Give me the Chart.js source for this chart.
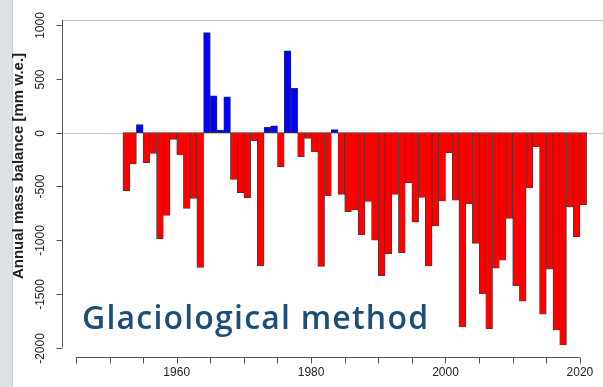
<!DOCTYPE html>
<html>
<head>
<meta charset="utf-8">
<script src="https://cdn.jsdelivr.net/npm/chart.js@4.4.1/dist/chart.umd.min.js"></script>
<style>
  html, body { margin: 0; padding: 0; background: #fff; }
  #wrap { position: relative; width: 603px; height: 387px; }
  #strip { position: absolute; left: 0; top: 0; width: 12px; height: 387px; background: #dde1e4; border-right: 1px solid #c9ced2; }
  canvas { position: absolute; left: 0; top: 0; }
</style>
</head>
<body>
<div id="wrap">
  <div id="strip"></div>
  <canvas id="grafico" width="603" height="387"></canvas>
</div>
<script>
// anos hidrológicos (ano final) e balanço anual [mm w.e.]
const anos = [
  1953, 1954, 1955, 1956, 1957, 1958, 1959, 1960, 1961, 1962,
  1963, 1964, 1965, 1966, 1967, 1968, 1969, 1970, 1971, 1972,
  1973, 1974, 1975, 1976, 1977, 1978, 1979, 1980, 1981, 1982,
  1983, 1984, 1985, 1986, 1987, 1988, 1989, 1990, 1991, 1992,
  1993, 1994, 1995, 1996, 1997, 1998, 1999, 2000, 2001, 2002,
  2003, 2004, 2005, 2006, 2007, 2008, 2009, 2010, 2011, 2012,
  2013, 2014, 2015, 2016, 2017, 2018, 2019, 2020, 2021
];
const balanco = [
  -540, -291, 75, -279, -192, -987, -769, -62, -208, -704,
  -611, -1253, 931, 342, 25, 333, -434, -559, -605, -74,
  -1238, 50, 65, -316, 763, 413, -223, -54, -179, -1245,
  -587, 28, -575, -735, -719, -950, -640, -1000, -1330, -1125,
  -575, -1117, -467, -832, -603, -1240, -868, -636, -185, -628,
  -1809, -661, -1030, -1499, -1825, -1260, -1187, -797, -1425, -1568,
  -515, -133, -1690, -1271, -1835, -1975, -690, -970, -673
];
const yTicks = [1000, 500, 0, -500, -1000, -1500, -2000];
const xTicksMenores = [1945, 1950, 1955, 1960, 1965, 1970, 1975, 1980, 1985, 1990, 1995, 2000, 2005, 2010, 2015, 2020];
const xRotulos = [1960, 1980, 2000, 2020];

const corTexto = '#222';

// eixos no estilo R, desenhados a partir das escalas do Chart.js
const eixosR = {
  id: 'eixosR',
  beforeDatasetsDraw(chart) {
    const { ctx, chartArea, scales: { y } } = chart;
    ctx.save();
    ctx.strokeStyle = '#c4c4c4';
    ctx.lineWidth = 1;
    // linha do zero
    const y0 = Math.round(y.getPixelForValue(0)) + 0.5;
    ctx.beginPath();
    ctx.moveTo(chartArea.left + 2, y0);
    ctx.lineTo(chartArea.right, y0);
    ctx.stroke();
    // linha superior
    ctx.strokeStyle = '#bdbdbd';
    ctx.beginPath();
    ctx.moveTo(chartArea.left, chartArea.top + 0.5);
    ctx.lineTo(chartArea.right, chartArea.top + 0.5);
    ctx.stroke();
    ctx.restore();
  },
  afterDraw(chart) {
    const { ctx, chartArea, scales: { x, y } } = chart;
    ctx.save();
    ctx.strokeStyle = '#555';
    ctx.lineWidth = 1;

    // eixo y
    const xl = chartArea.left + 0.5;
    ctx.beginPath();
    ctx.moveTo(xl, chartArea.top);
    ctx.lineTo(xl, y.getPixelForValue(yTicks[yTicks.length - 1]));
    ctx.stroke();
    ctx.fillStyle = corTexto;
    ctx.font = '12px "Liberation Sans", Arial, sans-serif';
    ctx.textAlign = 'center';
    ctx.textBaseline = 'middle';
    yTicks.forEach(v => {
      const py = Math.round(y.getPixelForValue(v)) + 0.5;
      ctx.beginPath();
      ctx.moveTo(xl - 6, py);
      ctx.lineTo(xl, py);
      ctx.stroke();
      ctx.save();
      ctx.translate(41, py);
      ctx.rotate(-Math.PI / 2);
      ctx.fillText(String(v), 0, 0);
      ctx.restore();
    });

    // eixo x
    const yb = chartArea.bottom + 0.5;
    ctx.beginPath();
    ctx.moveTo(x.getPixelForValue(xTicksMenores[0]), yb);
    ctx.lineTo(x.getPixelForValue(xTicksMenores[xTicksMenores.length - 1]), yb);
    ctx.stroke();
    xTicksMenores.forEach(v => {
      const px = Math.round(x.getPixelForValue(v)) + 0.5;
      ctx.beginPath();
      ctx.moveTo(px, yb);
      ctx.lineTo(px, yb + 6);
      ctx.stroke();
    });
    xRotulos.forEach(v => {
      ctx.fillText(String(v), x.getPixelForValue(v), 373);
    });

    // título do eixo y
    ctx.save();
    ctx.translate(19, 166);
    ctx.rotate(-Math.PI / 2);
    ctx.font = 'bold 15px "Liberation Sans", Arial, sans-serif';
    ctx.fillText('Annual mass balance [mm w.e.]', 0, 0);
    ctx.restore();

    // legenda grande
    ctx.fillStyle = '#1d4e7a';
    ctx.font = '600 32px "Open Sans", sans-serif';
    ctx.letterSpacing = '1.2px';
    ctx.textAlign = 'left';
    ctx.textBaseline = 'alphabetic';
    ctx.fillText('Glaciological method', 82, 329);
    ctx.restore();
  }
};

const ctx = document.getElementById('grafico').getContext('2d');
new Chart(ctx, {
  type: 'bar',
  data: {
    datasets: [{
      data: anos.map((a, i) => ({ x: a - 0.5, y: balanco[i] })),
      backgroundColor: balanco.map(v => v >= 0 ? '#0000ff' : '#ff0000'),
      borderColor: '#3a3a3a',
      borderWidth: 0.7,
      borderSkipped: false,
      barPercentage: 1,
      categoryPercentage: 1
    }]
  },
  options: {
    responsive: false,
    animation: false,
    layout: { padding: { left: 62, right: 0, top: 20, bottom: 30 } },
    scales: {
      x: { type: 'linear', min: 1942.93, max: 2023.44, offset: false, display: false },
      y: { min: -2088, max: 1049, display: false }
    },
    plugins: { legend: { display: false }, tooltip: { enabled: false } }
  },
  plugins: [eixosR]
});
</script>
</body>
</html>
